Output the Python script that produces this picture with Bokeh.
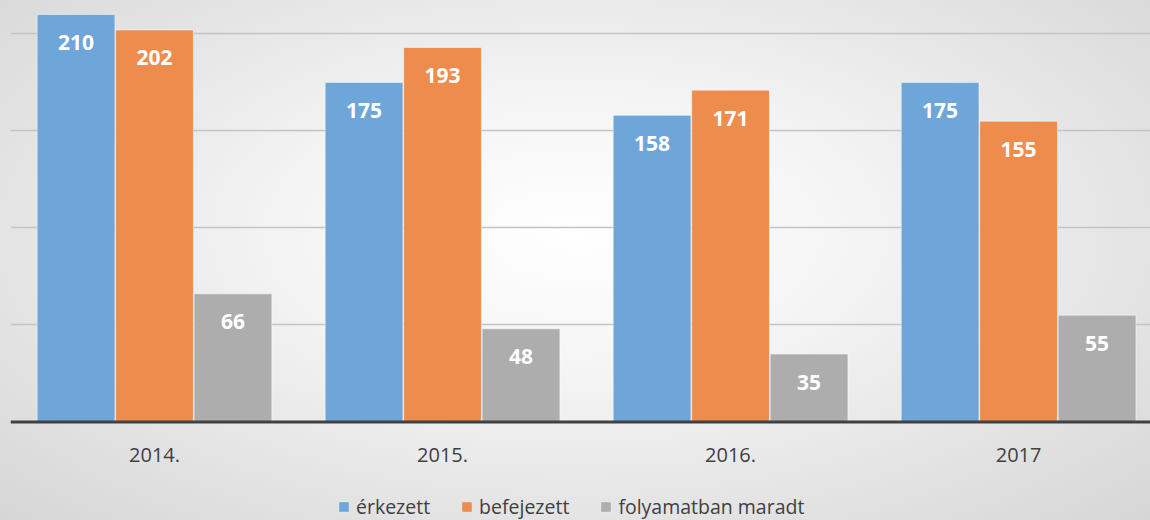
from bokeh.plotting import figure
from bokeh.models import ColumnDataSource, FixedTicker, Legend, LegendItem, Span
from bokeh.core.properties import value
from bokeh.embed import file_html
from bokeh.resources import INLINE

years = ["2014.", "2015.", "2016.", "2017"]
erkezett = [210, 175, 158, 175]
befejezett = [202, 193, 171, 155]
folyamatban = [66, 48, 35, 55]
series_names = ["érkezett", "befejezett", "folyamatban maradt"]
colors = ["#6fa6d9", "#ed8c4d", "#adadad"]

idx = list(range(len(years)))
bar_w = 0.27
step = 0.2725
offsets = [-step, 0.0, step]

p = figure(frame_width=1140, frame_height=520, x_range=(-0.5, 3.458), y_range=(-50.8, 217.2),
           output_backend="svg", toolbar_location=None,
           min_border_left=10, min_border_right=0, min_border_top=0, min_border_bottom=0,
           styles={"background": "radial-gradient(ellipse at 50% 45%, #ffffff 0%, #f4f4f4 35%, #d6d6d6 100%)"})
p.background_fill_alpha = 0
p.border_fill_alpha = 0
p.outline_line_color = None

p.yaxis.visible = False
p.xaxis.visible = False
p.ygrid.ticker = FixedTicker(ticks=[50, 100, 150, 200])
p.ygrid.grid_line_color = "#c4c4c4"
p.ygrid.grid_line_width = 1.5
p.xgrid.visible = False

items = []
for k, (vals, name, col) in enumerate(zip([erkezett, befejezett, folyamatban], series_names, colors)):
    src = ColumnDataSource(dict(x=[i + offsets[k] for i in idx], top=vals,
                                lbl=[str(v) for v in vals]))
    r = p.vbar(x="x", top="top", width=bar_w, source=src, fill_color=col,
               line_color="white", line_alpha=0.5, line_width=1)
    items.append(LegendItem(label=name, renderers=[r]))
    p.text(x="x", y="top", text="lbl", source=src, y_offset=28,
           text_align="center", text_baseline="middle",
           text_font=value("Open Sans"), text_font_style="bold",
           text_font_size="21px", text_color="white")

# baseline (category axis line)
p.add_layout(Span(location=0, dimension="width", line_color="#404040", line_width=3))

# category labels
cat_src = ColumnDataSource(dict(x=idx, y=[0] * len(idx), t=years))
p.text(x="x", y="y", text="t", source=cat_src, y_offset=33,
       text_align="center", text_baseline="middle",
       text_font=value("Open Sans"), text_font_size="20px", text_color="#404040")

legend = Legend(items=items, orientation="horizontal", location=(327, 0),
                glyph_width=13, glyph_height=13, label_standoff=6, spacing=30,
                label_text_font="Open Sans", label_text_font_size="19.5px",
                label_text_color="#404040", background_fill_alpha=0,
                border_line_color=None, padding=0, margin=0)
p.add_layout(legend, "center")

open("out.html", "w").write(file_html(p, INLINE))
